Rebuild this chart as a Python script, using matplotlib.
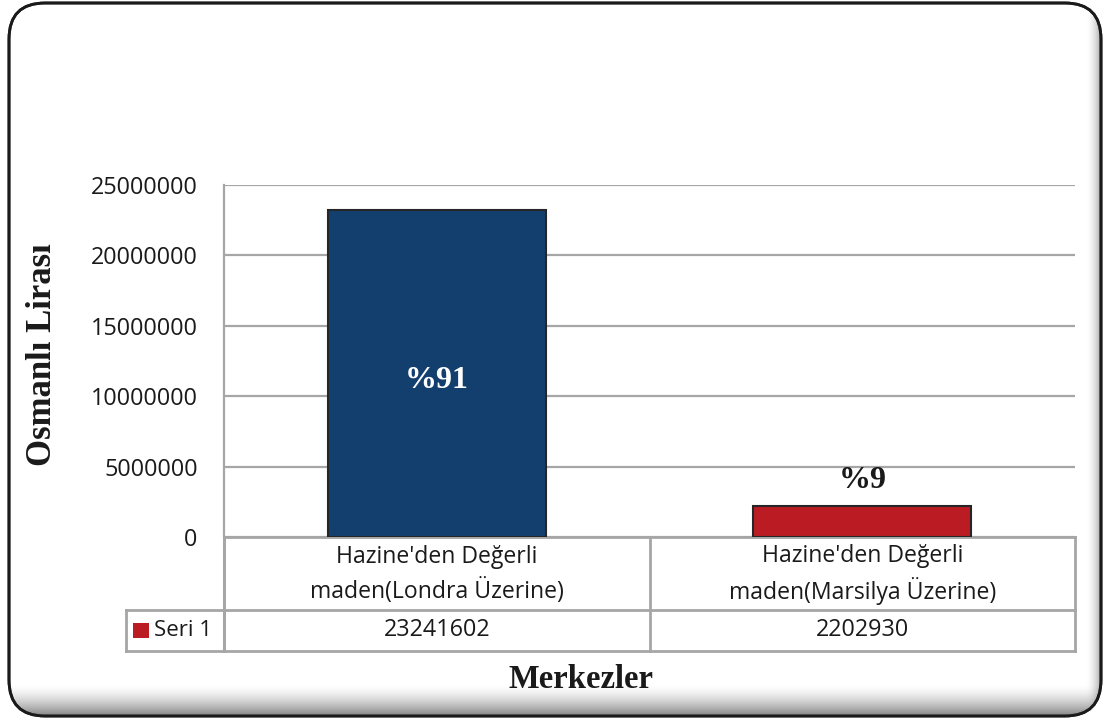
import matplotlib
matplotlib.use("Agg")
import matplotlib.pyplot as plt
import numpy as np
from matplotlib.patches import FancyBboxPatch, Rectangle

# ---- data ----
categories = ["Hazine'den Değerli\nmaden(Londra Üzerine)",
              "Hazine'den Değerli\nmaden(Marsilya Üzerine)"]
values = [23241602, 2202930]
percent_labels = ["%91", "%9"]
series_name = "Seri 1"
y_ticks = [0, 5000000, 10000000, 15000000, 20000000, 25000000]
y_label = "Osmanlı Lirası"
x_label = "Merkezler"

bar_colors = ["#133F6F", "#BB1C23"]
legend_color = "#BB1C23"
grid_color = "#A6A6A6"

W, H = 1105, 722
fig = plt.figure(figsize=(W / 100, H / 100), dpi=100)

# background / decoration axes in pixel coordinates
bg = fig.add_axes([0, 0, 1, 1])
bg.set_xlim(0, W)
bg.set_ylim(H, 0)
bg.axis("off")

frame = FancyBboxPatch((9, 3), 1092, 713,
                       boxstyle="round,pad=0,rounding_size=36",
                       fc="white", ec="#1a1a1a", lw=2.0, zorder=1)
bg.add_patch(frame)
# bottom shading (bevel-like)
grad = np.linspace(0, 1, 64) ** 1.6
img = np.ones((64, 2, 4))
img[..., :3] = 0.35
img[..., 3] = grad[:, None] * 0.75
im = bg.imshow(img, extent=(9, 1101, 716, 684), aspect="auto", zorder=2,
               interpolation="bilinear")
im.set_clip_path(frame)
# right-edge shading
gradr = np.linspace(0, 1, 32) ** 2
imgr = np.ones((2, 32, 4))
imgr[..., :3] = 0.35
imgr[..., 3] = gradr[None, :] * 0.5
im2 = bg.imshow(imgr, extent=(1085, 1101, 716, 3), aspect="auto", zorder=2,
                interpolation="bilinear")
im2.set_clip_path(frame)
frame2 = FancyBboxPatch((9, 3), 1092, 713,
                        boxstyle="round,pad=0,rounding_size=36",
                        fc="none", ec="#1a1a1a", lw=2.0, zorder=3)
bg.add_patch(frame2)

# ---- main axes ----
L, R, T, B = 224, 1075, 185, 537
ax = fig.add_axes([L / W, 1 - B / H, (R - L) / W, (B - T) / H])
ax.set_facecolor("none")
x = np.arange(len(values)) + 0.5
bars = ax.bar(x, values, width=0.512, color=bar_colors, edgecolor="#262626",
              linewidth=1.5, zorder=3)
ax.set_xlim(0, len(values))
ax.set_ylim(0, y_ticks[-1])
ax.set_yticks(y_ticks)
ax.set_yticklabels([str(t) for t in y_ticks], fontsize=16.8, family="Open Sans",
                   color="#1a1a1a")
ax.tick_params(axis="y", length=0, pad=19)
ax.set_xticks([])
for t in y_ticks:
    ax.axhline(t, color=grid_color, lw=1.6, zorder=1)
for s in ["top", "right", "bottom"]:
    ax.spines[s].set_visible(False)
ax.spines["left"].set_color(grid_color)
ax.spines["left"].set_linewidth(1.6)

# percentage labels
ax.text(x[0], values[0] / 2 - 0.5e6, percent_labels[0], ha="center", va="center",
        color="white", fontsize=23, fontweight="bold", family="Liberation Serif",
        zorder=4)
ax.annotate(percent_labels[1], (x[1], values[1]), xytext=(0, 18),
            textcoords="offset points", ha="center", va="center",
            color="#1a1a1a", fontsize=23, fontweight="bold",
            family="Liberation Serif", zorder=4)

# ---- data table ----
lw = 2.0
row1, row2 = 610, 651
leg_left = 126
bg.plot([L, R], [B, B], color=grid_color, lw=lw, zorder=4)
bg.plot([leg_left, R], [row1, row1], color=grid_color, lw=lw, zorder=4)
bg.plot([leg_left, R], [row2, row2], color=grid_color, lw=lw, zorder=4)
bg.plot([L, L], [B, row2], color=grid_color, lw=lw, zorder=4)
bg.plot([leg_left, leg_left], [row1, row2], color=grid_color, lw=lw, zorder=4)
cell_w = (R - L) / len(values)
for i in range(len(values) + 1):
    xx = L + i * cell_w
    bg.plot([xx, xx], [B, row2], color=grid_color, lw=lw, zorder=4)
for i, (cat, v) in enumerate(zip(categories, values)):
    cx = L + (i + 0.5) * cell_w
    bg.text(cx, (B + row1) / 2 + 1, cat, ha="center", va="center",
            fontsize=16.6, family="Open Sans", color="#1a1a1a",
            linespacing=1.42, zorder=5)
    bg.text(cx, (row1 + row2) / 2, str(v), ha="center", va="center",
            fontsize=16.8, family="Open Sans", color="#1a1a1a", zorder=5)
bg.add_patch(Rectangle((133, 623), 16, 15, fc=legend_color, ec="none", zorder=5))
bg.text(154, (row1 + row2) / 2, series_name, ha="left", va="center",
        fontsize=16, family="Open Sans", color="#1a1a1a", zorder=5)

# axis titles
bg.text(43, 355, y_label, rotation=90, ha="center", va="center",
        fontsize=25, fontweight="bold", family="Liberation Serif",
        color="#1a1a1a", zorder=5)
bg.text(581, 680, x_label, ha="center", va="center",
        fontsize=23.5, fontweight="bold", family="Liberation Serif",
        color="#1a1a1a", zorder=5)

fig.savefig("out.png", dpi=100)
